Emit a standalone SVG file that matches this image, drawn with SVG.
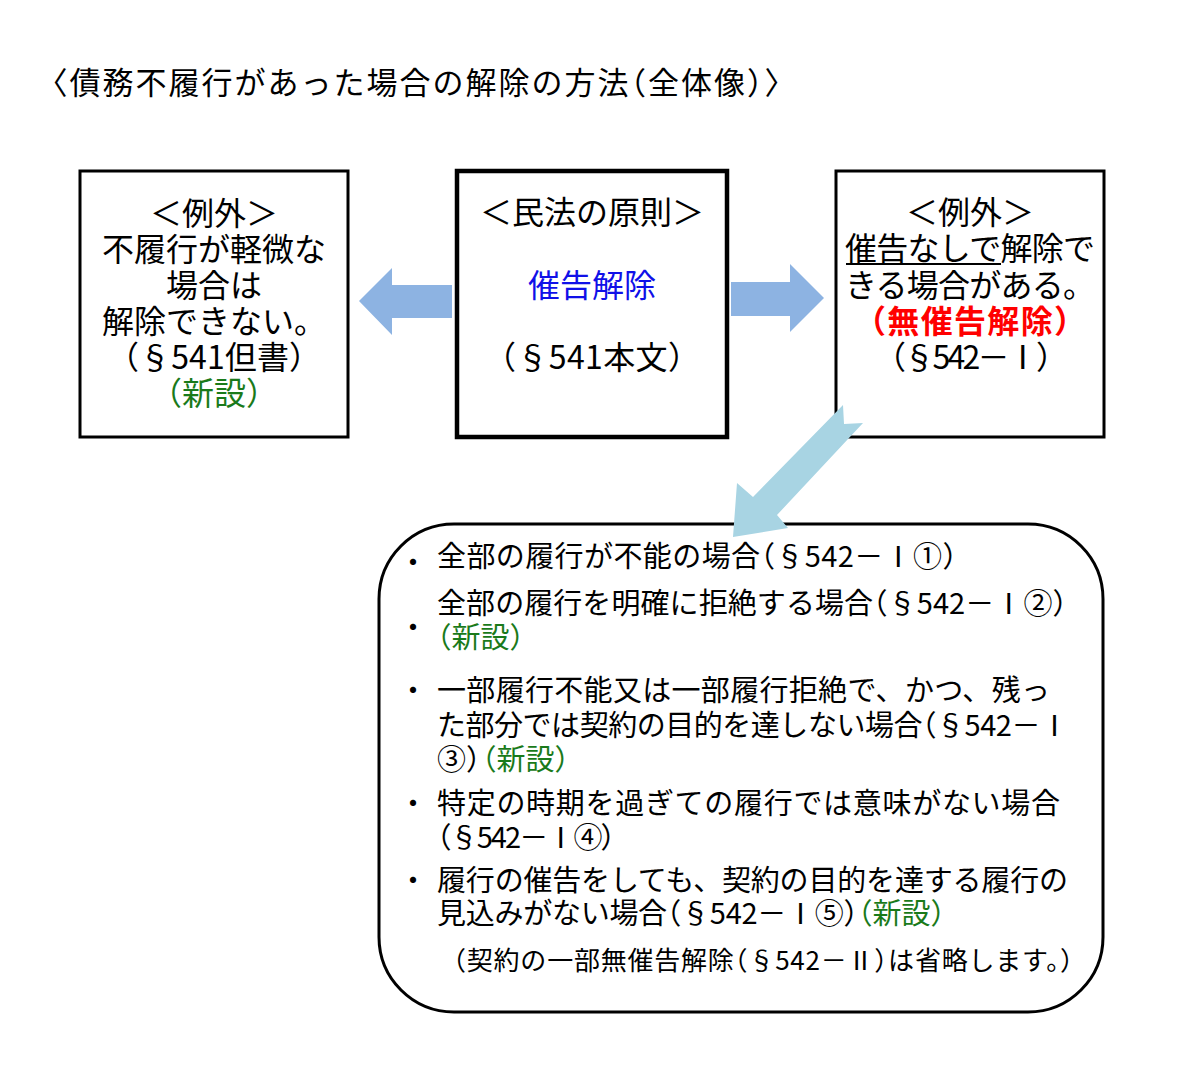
<svg xmlns="http://www.w3.org/2000/svg" width="1203" height="1070" viewBox="0 0 1203 1070">
<style>
text{font-family:"Noto Sans CJK JP","Noto Sans CJK SC",sans-serif;fill:#000}
.h{font-feature-settings:"halt" 1}
.t{font-size:31px}
.b{font-size:32px;text-anchor:middle}
.l{font-size:29px}
.s{font-size:26px}
.bul{font-size:29px;text-anchor:middle}
.box{fill:#fff;stroke:#000;stroke-width:3}
.main{stroke-width:4.5}
.grn{fill:#1a7a1a}
.blu{fill:#1010e8}
.red{fill:#ff0000;font-weight:bold}
.arr{fill:#8db3e2}
.arr2{fill:#a8d4e3}
</style>
<rect width="1203" height="1070" fill="#fff"/>
<g id="title">
<text class="t h" x="52" y="94" textLength="728" lengthAdjust="spacing">〈債務不履行があった場合の解除の方法（全体像）〉</text>
</g>
<g id="box-left">
<rect class="box" x="80" y="171" width="268" height="266"/>
<text class="b" x="214" y="225">＜例外＞</text>
<text class="b" x="214" y="261">不履行が軽微な</text>
<text class="b" x="214" y="297">場合は</text>
<text class="b" x="214" y="333">解除できない。</text>
<text class="b h" x="214" y="369" textLength="182" lengthAdjust="spacing">（§541但書）</text>
<text class="b h grn" x="214" y="405">（新設）</text>
</g>
<g id="box-center">
<rect class="box main" x="457" y="171" width="270" height="266"/>
<text class="b" x="592" y="224">＜民法の原則＞</text>
<text class="b blu" x="592" y="297">催告解除</text>
<text class="b h" x="592" y="369" textLength="184" lengthAdjust="spacing">（§541本文）</text>
</g>
<g id="box-right">
<rect class="box" x="836" y="171" width="268" height="266"/>
<text class="b" x="970" y="224">＜例外＞</text>
<text class="b" x="970" y="260" textLength="250" lengthAdjust="spacing">催告なしで解除で</text>
<line x1="846" y1="264" x2="1001" y2="264" stroke="#000" stroke-width="2"/>
<text class="b" x="970" y="297" textLength="250" lengthAdjust="spacing">きる場合がある。</text>
<text class="b h red" x="970" y="333" textLength="200" lengthAdjust="spacing">（無催告解除）</text>
<text class="b h" x="971" y="369" textLength="162" lengthAdjust="spacing">（§542－Ⅰ）</text>
</g>
<g id="box-bottom">
<rect class="box" x="379" y="524" width="724" height="488" rx="75" ry="75"/>
<text class="bul" x="413" y="573">・</text>
<text class="l h" x="437" y="567" textLength="520" lengthAdjust="spacing">全部の履行が不能の場合（§542－Ⅰ①）</text>
<text class="l h" x="437" y="614" textLength="630" lengthAdjust="spacing">全部の履行を明確に拒絶する場合（§542－Ⅰ②）</text>
<text class="bul" x="413" y="638">・</text>
<text class="l h grn" x="437" y="648">（新設）</text>
<text class="bul" x="413" y="701">・</text>
<text class="l" x="437" y="701" textLength="613" lengthAdjust="spacing">一部履行不能又は一部履行拒絶で、かつ、残っ</text>
<text class="l h" x="437" y="736" textLength="632" lengthAdjust="spacing">た部分では契約の目的を達しない場合（§542－Ⅰ</text>
<text class="l h" x="437" y="770">③）</text>
<text class="l h grn" x="482" y="770">（新設）</text>
<text class="bul" x="413" y="814">・</text>
<text class="l" x="437" y="814" textLength="623" lengthAdjust="spacing">特定の時期を過ぎての履行では意味がない場合</text>
<text class="l h" x="437" y="848" textLength="178" lengthAdjust="spacing">（§542－Ⅰ④）</text>
<text class="bul" x="413" y="891">・</text>
<text class="l" x="437" y="891" textLength="631" lengthAdjust="spacing">履行の催告をしても、契約の目的を達する履行の</text>
<text class="l h" x="437" y="924" textLength="421" lengthAdjust="spacing">見込みがない場合（§542－Ⅰ⑤）</text>
<text class="l h grn" x="858" y="924">（新設）</text>
<text class="s h" x="453" y="970" textLength="620" lengthAdjust="spacing">（契約の一部無催告解除（§542－Ⅱ）は省略します。）</text>
</g>
<g id="connectors">
<polygon class="arr" points="452,285 392,285 392,268 359,301 392,335 392,318 452,318"/>
<polygon class="arr" points="731,282 790,282 790,264 824,298 790,332 790,316 731,316"/>
<polygon class="arr2" points="843,405 753,497 737,483 733,537 788,528 777,515 863,423 844,424"/>
</g>
</svg>
